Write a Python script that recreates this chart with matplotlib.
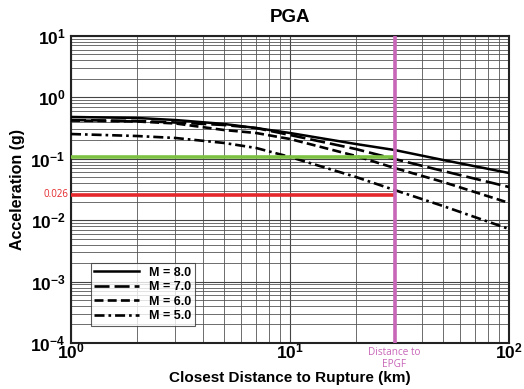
import math
import matplotlib
matplotlib.use("Agg")
import matplotlib.pyplot as plt
from matplotlib.ticker import FuncFormatter, LogLocator, NullFormatter

plt.rcParams['font.family'] = ['Liberation Sans', 'DejaVu Sans']
plt.rcParams['mathtext.fontset'] = 'custom'
plt.rcParams['mathtext.rm'] = 'Liberation Sans:bold'
plt.rcParams['mathtext.bf'] = 'Liberation Sans:bold'

# data (distance in km, acceleration in g)
distance = [1, 2, 3, 5, 7, 10, 20, 30, 50, 100]
m8 = [0.48, 0.462, 0.428, 0.369, 0.317, 0.263, 0.174, 0.139, 0.0956, 0.0587]
m7 = [0.428, 0.413, 0.390, 0.355, 0.317, 0.244, 0.144, 0.0992, 0.0633, 0.0347]
m6 = [0.420, 0.405, 0.376, 0.294, 0.263, 0.210, 0.111, 0.0708, 0.0419, 0.0191]
m5 = [0.253, 0.235, 0.218, 0.181, 0.150, 0.107, 0.0505, 0.0310, 0.0170, 0.00719]
labels = ['M = 8.0', 'M = 7.0', 'M = 6.0', 'M = 5.0']

epgf_dist = 30
green_level = 0.105
red_level = 0.026

fig = plt.figure(figsize=(5.24, 3.89), dpi=100)
ax = fig.add_axes([0.1355, 0.1183, 0.8359, 0.7892])

ax.set_xscale('log')
ax.set_yscale('log')
ax.set_xlim(1, 100)
ax.set_ylim(1e-4, 10)

ax.xaxis.set_major_locator(LogLocator(base=10))
ax.xaxis.set_minor_locator(LogLocator(base=10, subs=range(2, 10)))
ax.yaxis.set_major_locator(LogLocator(base=10))
ax.yaxis.set_minor_locator(LogLocator(base=10, subs=range(2, 10)))
fmt = FuncFormatter(lambda v, p: r'$\mathbf{10^{%d}}$' % round(math.log10(v)))
ax.xaxis.set_major_formatter(fmt)
ax.yaxis.set_major_formatter(fmt)
ax.xaxis.set_minor_formatter(NullFormatter())
ax.yaxis.set_minor_formatter(NullFormatter())
ax.tick_params(which='both', length=0, labelsize=12.5)
ax.tick_params(axis='x', pad=-1)
ax.tick_params(axis='y', pad=4)

ax.grid(True, which='major', color='#444444', lw=0.8)
ax.grid(True, which='minor', color='#555555', lw=0.6)
for s in ax.spines.values():
    s.set_linewidth(1.5)
    s.set_color('#222222')

ax.plot(distance, m8, color='black', lw=1.8, ls='-', label=labels[0], zorder=3)
ax.plot(distance, m7, color='black', lw=1.9, dashes=(5.7, 1.9), label=labels[1], zorder=3)
ax.plot(distance, m6, color='black', lw=1.9, dashes=(3.4, 1.6), label=labels[2], zorder=3)
ax.plot(distance, m5, color='black', lw=1.9, dashes=(3.8, 1.5, 1.0, 1.5), label=labels[3], zorder=3)

ax.plot([1, epgf_dist], [green_level, green_level], color='#7cc142', lw=2.6, zorder=4, solid_capstyle='butt')
ax.plot([1, epgf_dist], [red_level, red_level], color='#e4282c', lw=2.6, zorder=4, solid_capstyle='butt')
ax.axvline(epgf_dist, color='#c866b8', lw=2.6, zorder=5)

ax.text(0.97, red_level, '0.026', color='#e4282c', fontsize=7, ha='right', va='center',
        family=['Open Sans', 'DejaVu Sans'])
ax.text(epgf_dist, 8.7e-5, 'Distance to\nEPGF', color='#c866b8', fontsize=7.2, ha='center', va='top',
        family=['Open Sans', 'DejaVu Sans'], linespacing=1.15)

leg = ax.legend(loc='lower left', bbox_to_anchor=(0.045, 0.055), frameon=True, fancybox=False,
                edgecolor='#333333', handlelength=3.6, fontsize=9, borderpad=0.3,
                labelspacing=0.2, handletextpad=0.8, borderaxespad=0)
leg.get_frame().set_linewidth(0.8)
for t in leg.get_texts():
    t.set_fontweight('bold')

ax.set_title('PGA', fontsize=13.5, fontweight='bold', pad=10)
ax.set_xlabel('Closest Distance to Rupture (km)', fontsize=11, fontweight='bold', labelpad=7)
ax.set_ylabel('Acceleration (g)', fontsize=11.5, fontweight='bold', labelpad=4)

fig.savefig('out.png', dpi=100)
